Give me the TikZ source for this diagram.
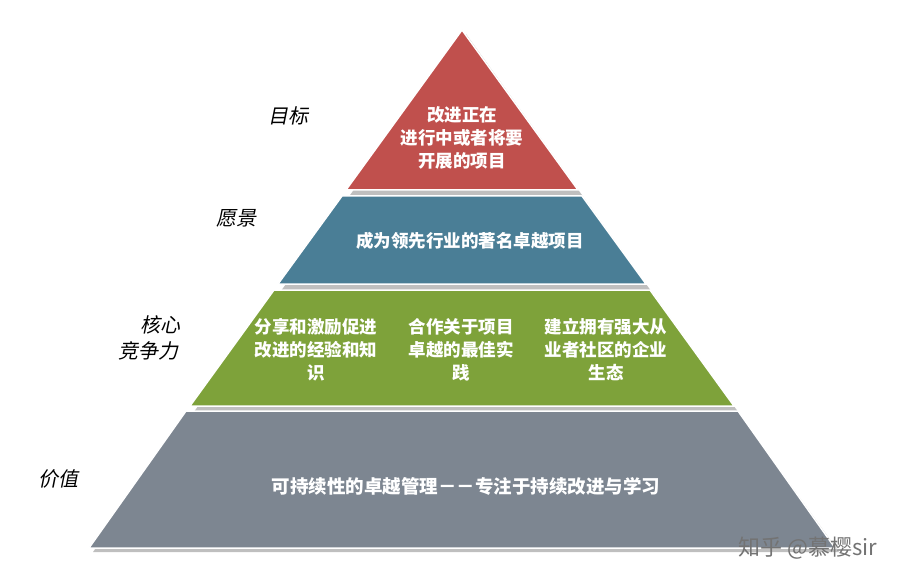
\documentclass[tikz,border=0pt]{standalone}
\usepackage{fontspec}
\setmainfont{Noto Sans CJK SC}
\newfontfamily\slantcjk[FakeSlant=0.2]{Noto Sans CJK SC}
\usetikzlibrary{positioning}
\definecolor{layerRed}{HTML}{C0504D}
\definecolor{layerBlue}{HTML}{4A7E96}
\definecolor{layerGreen}{HTML}{7EA23A}
\definecolor{layerGray}{HTML}{7D8691}
\tikzset{
  layer/.style={draw=white,line width=1.5pt},
  intext/.style={text=white,font=\bfseries\fontsize{17.5}{23}\selectfont,align=center},
  sidetext/.style={font=\slantcjk\fontsize{20}{26}\selectfont,align=center}
}
\begin{document}
\begin{tikzpicture}[x=1pt,y=-1pt]
  \useasboundingbox (0,0) rectangle (923,588);
  % layers, shadow first
  \fill[black!25,xshift=4,yshift=-4] (462,30) -- (89,548) -- (835,548) -- cycle;
  \fill[layer,fill=layerRed] (462,30) -- (346,190) -- (578,190) -- cycle;
  \fill[layer,fill=layerBlue] (342,196) -- (582,196) -- (646,284) -- (278,284) -- cycle;
  \fill[layer,fill=layerGreen] (274,290) -- (650,290) -- (734,406) -- (190,406) -- cycle;
  \fill[layer,fill=layerGray] (186,411) -- (738,411) -- (835,548) -- (89,548) -- cycle;

  \node[intext] (goal) at (462,138) {改进正在\\进行中或者将要\\开展的项目};
  \node[intext] (vision) at (470,241) {成为领先行业的著名卓越项目};
  \node[intext] (core1) at (316,350) {分享和激励促进\\改进的经验和知\\识};
  \node[intext] (core2) at (461,350) {合作关于项目\\卓越的最佳实\\践};
  \node[intext] (core3) at (606,350) {建立拥有强大从\\业者社区的企业\\生态};
  \node[intext,font=\bfseries\fontsize{18.5}{23}\selectfont] (value) at (466,486) {可持续性的卓越管理－－专注于持续改进与学习};

  \node[sidetext] (sgoal) at (288,116) {目标};
  \node[sidetext] (svision) at (236,218) {愿景};
  \node[sidetext] (score) at (148,338) {\hspace*{1.2em}核心\\竞争力};
  \node[sidetext] (svalue) at (58,479) {价值};
  \node[text=black!55,font=\fontsize{22}{26}\selectfont] (mark) at (808,548) {知乎 @慕樱sir};
\end{tikzpicture}
\end{document}
